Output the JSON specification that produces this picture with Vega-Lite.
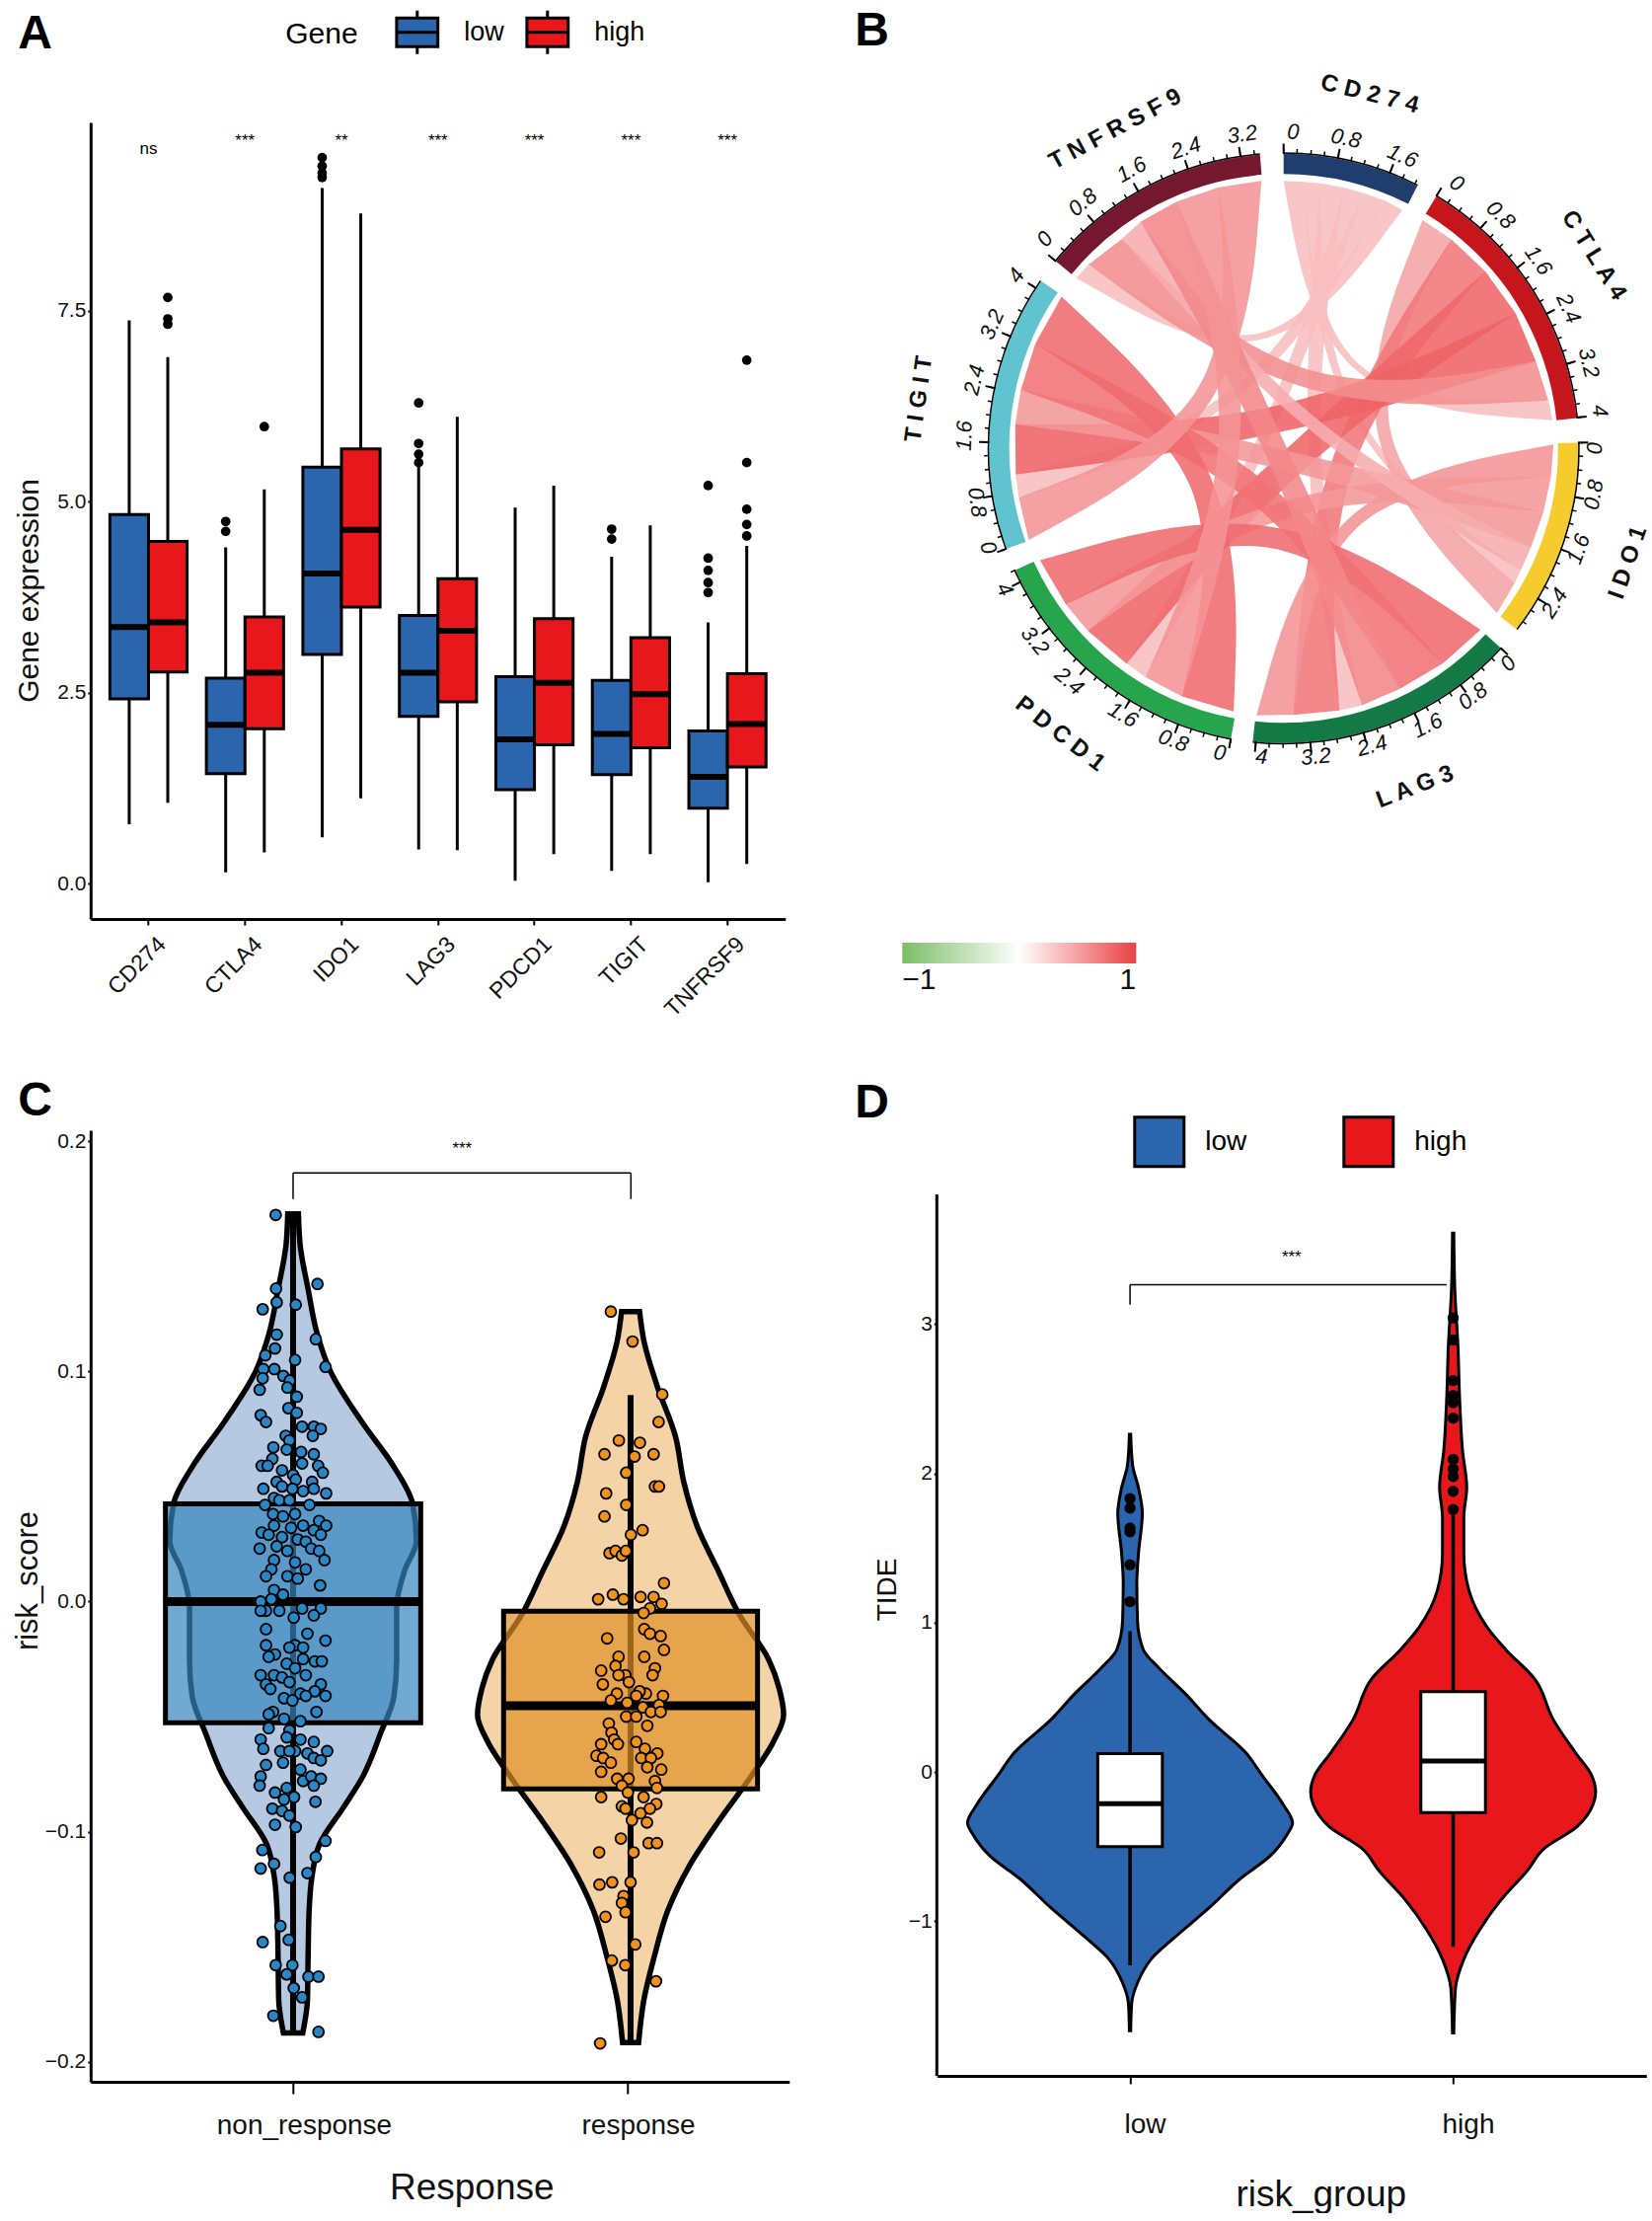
{
"$schema":"https://vega.github.io/schema/vega-lite/v6.json",
"padding":{"left":12.8,"top":7,"right":0,"bottom":0},
"background":"white",
"bounds":"flush",
"columns":2,
"spacing":{"row":214,"column":149.5},
"config":{"view":{"stroke":null},"font":"Liberation Sans","axis":{"grid":false,"domainColor":"black","domainWidth":3,"tickColor":"black","tickWidth":2,"tickSize":4,"labelColor":"#111","labelFontSize":21,"titleColor":"#111","titleFontWeight":"normal","labelFont":"Liberation Sans","titleFont":"Liberation Sans"},"legend":{"labelFont":"Liberation Sans","titleFont":"Liberation Sans"}},
"datasets":{
"boxes":[
{"gene":"CD274","group":"low","lo":0.78,"q1":2.42,"med":3.36,"q3":4.83,"hi":7.37},
{"gene":"CD274","group":"high","lo":1.06,"q1":2.77,"med":3.42,"q3":4.48,"hi":6.89},
{"gene":"CTLA4","group":"low","lo":0.15,"q1":1.44,"med":2.08,"q3":2.69,"hi":4.4},
{"gene":"CTLA4","group":"high","lo":0.41,"q1":2.03,"med":2.76,"q3":3.49,"hi":5.16},
{"gene":"IDO1","group":"low","lo":0.61,"q1":3.0,"med":4.06,"q3":5.45,"hi":9.1},
{"gene":"IDO1","group":"high","lo":1.12,"q1":3.62,"med":4.63,"q3":5.69,"hi":8.77},
{"gene":"LAG3","group":"low","lo":0.45,"q1":2.19,"med":2.76,"q3":3.51,"hi":5.51},
{"gene":"LAG3","group":"high","lo":0.44,"q1":2.38,"med":3.31,"q3":3.99,"hi":6.11},
{"gene":"PDCD1","group":"low","lo":0.04,"q1":1.23,"med":1.89,"q3":2.71,"hi":4.92},
{"gene":"PDCD1","group":"high","lo":0.39,"q1":1.82,"med":2.63,"q3":3.47,"hi":5.21},
{"gene":"TIGIT","group":"low","lo":0.17,"q1":1.43,"med":1.96,"q3":2.66,"hi":4.28},
{"gene":"TIGIT","group":"high","lo":0.39,"q1":1.78,"med":2.48,"q3":3.22,"hi":4.69},
{"gene":"TNFRSF9","group":"low","lo":0.02,"q1":0.99,"med":1.4,"q3":2.0,"hi":3.42},
{"gene":"TNFRSF9","group":"high","lo":0.26,"q1":1.53,"med":2.09,"q3":2.75,"hi":4.42}],
"outliers":[
{"gene":"CD274","group":"high","y":7.67},{"gene":"CD274","group":"high","y":7.39},{"gene":"CD274","group":"high","y":7.32},
{"gene":"CTLA4","group":"low","y":4.74},{"gene":"CTLA4","group":"low","y":4.61},{"gene":"CTLA4","group":"high","y":5.98},
{"gene":"IDO1","group":"low","y":9.5},{"gene":"IDO1","group":"low","y":9.39},{"gene":"IDO1","group":"low","y":9.3},{"gene":"IDO1","group":"low","y":9.24},
{"gene":"LAG3","group":"low","y":6.29},{"gene":"LAG3","group":"low","y":5.76},{"gene":"LAG3","group":"low","y":5.62},{"gene":"LAG3","group":"low","y":5.51},
{"gene":"TIGIT","group":"low","y":4.64},{"gene":"TIGIT","group":"low","y":4.51},
{"gene":"TNFRSF9","group":"low","y":5.21},{"gene":"TNFRSF9","group":"low","y":4.26},{"gene":"TNFRSF9","group":"low","y":4.1},{"gene":"TNFRSF9","group":"low","y":3.94},{"gene":"TNFRSF9","group":"low","y":3.81},
{"gene":"TNFRSF9","group":"high","y":6.85},{"gene":"TNFRSF9","group":"high","y":5.51},{"gene":"TNFRSF9","group":"high","y":4.9},{"gene":"TNFRSF9","group":"high","y":4.7},{"gene":"TNFRSF9","group":"high","y":4.55}],
"sig":[{"gene":"CD274","y":9.61,"label":"ns"},{"gene":"CTLA4","y":9.71,"label":"***"},{"gene":"IDO1","y":9.71,"label":"**"},{"gene":"LAG3","y":9.71,"label":"***"},{"gene":"PDCD1","y":9.71,"label":"***"},{"gene":"TIGIT","y":9.71,"label":"***"},{"gene":"TNFRSF9","y":9.71,"label":"***"}],
"rings":[{"gene":"CD274","t":0,"t2":27},{"gene":"CTLA4","t":31.2,"t2":84.1},{"gene":"IDO1","t":88.9,"t2":127.8},{"gene":"LAG3","t":132.6,"t2":186},{"gene":"PDCD1","t":190.3,"t2":245.6},{"gene":"TIGIT","t":250.1,"t2":304.6},{"gene":"TNFRSF9","t":309.4,"t2":355.4}],
"minor":[{"t":0},{"t":2.6},{"t":5.3},{"t":7.9},{"t":10.6},{"t":13.2},{"t":15.8},{"t":18.5},{"t":21.1},{"t":23.8},{"t":26.4},
{"t":31.2},{"t":33.8},{"t":36.5},{"t":39.1},{"t":41.8},{"t":44.4},{"t":47},{"t":49.7},{"t":52.3},{"t":55},{"t":57.6},{"t":60.2},{"t":62.9},{"t":65.5},{"t":68.2},{"t":70.8},{"t":73.4},{"t":76.1},{"t":78.7},{"t":81.4},{"t":84},
{"t":88.9},{"t":91.5},{"t":94.2},{"t":96.8},{"t":99.5},{"t":102.1},{"t":104.7},{"t":107.4},{"t":110},{"t":112.7},{"t":115.3},{"t":117.9},{"t":120.6},{"t":123.2},{"t":125.9},
{"t":132.6},{"t":135.2},{"t":137.9},{"t":140.5},{"t":143.2},{"t":145.8},{"t":148.4},{"t":151.1},{"t":153.7},{"t":156.4},{"t":159},{"t":161.6},{"t":164.3},{"t":166.9},{"t":169.6},{"t":172.2},{"t":174.8},{"t":177.5},{"t":180.1},{"t":182.8},{"t":185.4},
{"t":190.3},{"t":192.9},{"t":195.6},{"t":198.2},{"t":200.9},{"t":203.5},{"t":206.1},{"t":208.8},{"t":211.4},{"t":214.1},{"t":216.7},{"t":219.3},{"t":222},{"t":224.6},{"t":227.3},{"t":229.9},{"t":232.5},{"t":235.2},{"t":237.8},{"t":240.5},{"t":243.1},{"t":245.6},
{"t":250.1},{"t":252.7},{"t":255.4},{"t":258},{"t":260.7},{"t":263.3},{"t":265.9},{"t":268.6},{"t":271.2},{"t":273.9},{"t":276.5},{"t":279.1},{"t":281.8},{"t":284.4},{"t":287.1},{"t":289.7},{"t":292.3},{"t":295},{"t":297.6},{"t":300.3},{"t":302.9},
{"t":309.4},{"t":312},{"t":314.7},{"t":317.3},{"t":320},{"t":322.6},{"t":325.2},{"t":327.9},{"t":330.5},{"t":333.2},{"t":335.8},{"t":338.4},{"t":341.1},{"t":343.7},{"t":346.4},{"t":349},{"t":351.6},{"t":354.3}],
"major":[{"t":0},{"t":10.6},{"t":21.1},{"t":31.2},{"t":41.8},{"t":52.3},{"t":62.9},{"t":73.4},{"t":84},{"t":88.9},{"t":99.5},{"t":110},{"t":120.6},{"t":132.6},{"t":143.2},{"t":153.7},{"t":164.3},{"t":174.8},{"t":185.4},{"t":190.3},{"t":200.9},{"t":211.4},{"t":222},{"t":232.5},{"t":243.1},{"t":250.1},{"t":260.7},{"t":271.2},{"t":281.8},{"t":292.3},{"t":302.9},{"t":309.4},{"t":320},{"t":330.5},{"t":341.1},{"t":351.6}],
"ticklabels":[
{"x":843,"y":180,"label":"0","rot":2},{"x":948,"y":193,"label":"0.8","rot":12},{"x":1060,"y":228,"label":"1.6","rot":23},
{"x":1168,"y":282,"label":"0","rot":33},{"x":1255,"y":345,"label":"0.8","rot":44},{"x":1330,"y":435,"label":"1.6","rot":55},{"x":1390,"y":530,"label":"2.4","rot":66},{"x":1430,"y":638,"label":"3.2","rot":76},{"x":1452,"y":733,"label":"4","rot":84},
{"x":1442,"y":808,"label":"0","rot":-89},{"x":1440,"y":900,"label":"0.8","rot":-80},{"x":1410,"y":1008,"label":"1.6","rot":-70},{"x":1362,"y":1115,"label":"2.4","rot":-58},
{"x":1270,"y":1235,"label":"0","rot":-47},{"x":1200,"y":1300,"label":"0.8","rot":-37},{"x":1110,"y":1358,"label":"1.6","rot":-26},{"x":1000,"y":1398,"label":"2.4","rot":-15},{"x":888,"y":1420,"label":"3.2","rot":-5},{"x":780,"y":1420,"label":"4","rot":4},
{"x":697,"y":1412,"label":"0","rot":10},{"x":605,"y":1388,"label":"0.8","rot":20},{"x":505,"y":1337,"label":"1.6","rot":30},{"x":398,"y":1270,"label":"2.4","rot":40},{"x":330,"y":1190,"label":"3.2","rot":51},{"x":270,"y":1088,"label":"4","rot":62},
{"x":237,"y":1005,"label":"0","rot":71},{"x":215,"y":915,"label":"0.8","rot":82},{"x":190,"y":783,"label":"1.6","rot":-88},{"x":210,"y":672,"label":"2.4","rot":-77},{"x":245,"y":562,"label":"3.2","rot":-66},{"x":293,"y":465,"label":"4","rot":-55},
{"x":350,"y":393,"label":"0","rot":-50},{"x":425,"y":320,"label":"0.8","rot":-40},{"x":522,"y":255,"label":"1.6","rot":-29},{"x":630,"y":212,"label":"2.4","rot":-18},{"x":742,"y":185,"label":"3.2","rot":-8}],
"genelabels":[{"x":995,"y":105,"label":"C D 2 7 4","rot":14},{"x":1440,"y":425,"label":"C T L A 4","rot":58},{"x":1508,"y":1035,"label":"I D O 1","rot":-71},{"x":1085,"y":1480,"label":"L A G 3","rot":-21},{"x":380,"y":1375,"label":"P D C D 1","rot":38},{"x":100,"y":710,"label":"T I G I T","rot":-82},{"x":490,"y":175,"label":"T N F R S F 9","rot":-28}],
"ribbons":[
{"k":1,"x":824,"y":277,"v":0.3},{"k":1,"x":824,"y":277,"v":0.3},{"k":1,"x":824,"y":277,"v":0.3},{"k":1,"x":863,"y":279,"v":0.3},{"k":1,"x":863,"y":279,"v":0.3},{"k":1,"x":863,"y":279,"v":0.3},{"k":1,"x":909,"y":715,"v":0.3},{"k":1,"x":1350,"y":713,"v":0.3},{"k":1,"x":1350,"y":713,"v":0.3},{"k":1,"x":1350,"y":713,"v":0.3},{"k":1,"x":1358,"y":752,"v":0.3},{"k":1,"x":1358,"y":752,"v":0.3},{"k":1,"x":1358,"y":752,"v":0.3},{"k":1,"x":904,"y":720,"v":0.3},
{"k":2,"x":863,"y":279,"v":0.3},{"k":2,"x":863,"y":279,"v":0.3},{"k":2,"x":863,"y":279,"v":0.3},{"k":2,"x":897,"y":282,"v":0.3},{"k":2,"x":897,"y":282,"v":0.3},{"k":2,"x":897,"y":282,"v":0.3},{"k":2,"x":906,"y":766,"v":0.3},{"k":2,"x":1295,"y":1050,"v":0.3},{"k":2,"x":1295,"y":1050,"v":0.3},{"k":2,"x":1295,"y":1050,"v":0.3},{"k":2,"x":1283,"y":1075,"v":0.3},{"k":2,"x":1283,"y":1075,"v":0.3},{"k":2,"x":1283,"y":1075,"v":0.3},{"k":2,"x":899,"y":769,"v":0.3},
{"k":3,"x":897,"y":282,"v":0.3},{"k":3,"x":897,"y":282,"v":0.3},{"k":3,"x":897,"y":282,"v":0.3},{"k":3,"x":945,"y":291,"v":0.3},{"k":3,"x":945,"y":291,"v":0.3},{"k":3,"x":945,"y":291,"v":0.3},{"k":3,"x":866,"y":807,"v":0.3},{"k":3,"x":980,"y":1318,"v":0.3},{"k":3,"x":980,"y":1318,"v":0.3},{"k":3,"x":980,"y":1318,"v":0.3},{"k":3,"x":935,"y":1328,"v":0.3},{"k":3,"x":935,"y":1328,"v":0.3},{"k":3,"x":935,"y":1328,"v":0.3},{"k":3,"x":852,"y":808,"v":0.3},
{"k":4,"x":945,"y":291,"v":0.3},{"k":4,"x":945,"y":291,"v":0.3},{"k":4,"x":945,"y":291,"v":0.3},{"k":4,"x":985,"y":302,"v":0.3},{"k":4,"x":985,"y":302,"v":0.3},{"k":4,"x":985,"y":302,"v":0.3},{"k":4,"x":807,"y":801,"v":0.3},{"k":4,"x":550,"y":1262,"v":0.3},{"k":4,"x":550,"y":1262,"v":0.3},{"k":4,"x":550,"y":1262,"v":0.3},{"k":4,"x":512,"y":1235,"v":0.3},{"k":4,"x":512,"y":1235,"v":0.3},{"k":4,"x":512,"y":1235,"v":0.3},{"k":4,"x":796,"y":795,"v":0.3},
{"k":5,"x":985,"y":302,"v":0.3},{"k":5,"x":985,"y":302,"v":0.3},{"k":5,"x":985,"y":302,"v":0.3},{"k":5,"x":1025,"y":316,"v":0.3},{"k":5,"x":1025,"y":316,"v":0.3},{"k":5,"x":1025,"y":316,"v":0.3},{"k":5,"x":775,"y":749,"v":0.3},{"k":5,"x":298,"y":905,"v":0.3},{"k":5,"x":298,"y":905,"v":0.3},{"k":5,"x":298,"y":905,"v":0.3},{"k":5,"x":292,"y":860,"v":0.3},{"k":5,"x":292,"y":860,"v":0.3},{"k":5,"x":292,"y":860,"v":0.3},{"k":5,"x":769,"y":740,"v":0.3},
{"k":6,"x":1025,"y":316,"v":0.3},{"k":6,"x":1025,"y":316,"v":0.3},{"k":6,"x":1025,"y":316,"v":0.3},{"k":6,"x":1060,"y":335,"v":0.3},{"k":6,"x":1060,"y":335,"v":0.3},{"k":6,"x":1060,"y":335,"v":0.3},{"k":6,"x":798,"y":687,"v":0.3},{"k":6,"x":412,"y":470,"v":0.3},{"k":6,"x":412,"y":470,"v":0.3},{"k":6,"x":412,"y":470,"v":0.3},{"k":6,"x":437,"y":443,"v":0.3},{"k":6,"x":437,"y":443,"v":0.3},{"k":6,"x":437,"y":443,"v":0.3},{"k":6,"x":796,"y":680,"v":0.3},
{"k":7,"x":1100,"y":355,"v":0.42},{"k":7,"x":1100,"y":355,"v":0.42},{"k":7,"x":1100,"y":355,"v":0.42},{"k":7,"x":1157,"y":393,"v":0.42},{"k":7,"x":1157,"y":393,"v":0.42},{"k":7,"x":1157,"y":393,"v":0.42},{"k":7,"x":943,"y":786,"v":0.42},{"k":7,"x":1283,"y":1075,"v":0.42},{"k":7,"x":1283,"y":1075,"v":0.42},{"k":7,"x":1283,"y":1075,"v":0.42},{"k":7,"x":1248,"y":1135,"v":0.42},{"k":7,"x":1248,"y":1135,"v":0.42},{"k":7,"x":1248,"y":1135,"v":0.42},{"k":7,"x":929,"y":790,"v":0.42},
{"k":8,"x":1157,"y":393,"v":0.62},{"k":8,"x":1157,"y":393,"v":0.62},{"k":8,"x":1157,"y":393,"v":0.62},{"k":8,"x":1225,"y":457,"v":0.62},{"k":8,"x":1225,"y":457,"v":0.62},{"k":8,"x":1225,"y":457,"v":0.62},{"k":8,"x":901,"y":834,"v":0.62},{"k":8,"x":935,"y":1328,"v":0.62},{"k":8,"x":935,"y":1328,"v":0.62},{"k":8,"x":935,"y":1328,"v":0.62},{"k":8,"x":843,"y":1337,"v":0.62},{"k":8,"x":843,"y":1337,"v":0.62},{"k":8,"x":843,"y":1337,"v":0.62},{"k":8,"x":877,"y":826,"v":0.62},
{"k":9,"x":1225,"y":457,"v":0.7},{"k":9,"x":1225,"y":457,"v":0.7},{"k":9,"x":1225,"y":457,"v":0.7},{"k":9,"x":1285,"y":540,"v":0.7},{"k":9,"x":1285,"y":540,"v":0.7},{"k":9,"x":1285,"y":540,"v":0.7},{"k":9,"x":847,"y":832,"v":0.7},{"k":9,"x":512,"y":1235,"v":0.7},{"k":9,"x":512,"y":1235,"v":0.7},{"k":9,"x":512,"y":1235,"v":0.7},{"k":9,"x":435,"y":1170,"v":0.7},{"k":9,"x":435,"y":1170,"v":0.7},{"k":9,"x":435,"y":1170,"v":0.7},{"k":9,"x":826,"y":810,"v":0.7},
{"k":10,"x":1285,"y":540,"v":0.72},{"k":10,"x":1285,"y":540,"v":0.72},{"k":10,"x":1285,"y":540,"v":0.72},{"k":10,"x":1325,"y":635,"v":0.72},{"k":10,"x":1325,"y":635,"v":0.72},{"k":10,"x":1325,"y":635,"v":0.72},{"k":10,"x":820,"y":790,"v":0.72},{"k":10,"x":292,"y":860,"v":0.72},{"k":10,"x":292,"y":860,"v":0.72},{"k":10,"x":292,"y":860,"v":0.72},{"k":10,"x":291,"y":760,"v":0.72},{"k":10,"x":291,"y":760,"v":0.72},{"k":10,"x":291,"y":760,"v":0.72},{"k":10,"x":813,"y":761,"v":0.72},
{"k":11,"x":1325,"y":635,"v":0.52},{"k":11,"x":1325,"y":635,"v":0.52},{"k":11,"x":1325,"y":635,"v":0.52},{"k":11,"x":1350,"y":713,"v":0.52},{"k":11,"x":1350,"y":713,"v":0.52},{"k":11,"x":1350,"y":713,"v":0.52},{"k":11,"x":845,"y":739,"v":0.52},{"k":11,"x":437,"y":443,"v":0.52},{"k":11,"x":437,"y":443,"v":0.52},{"k":11,"x":437,"y":443,"v":0.52},{"k":11,"x":503,"y":392,"v":0.52},{"k":11,"x":503,"y":392,"v":0.52},{"k":11,"x":503,"y":392,"v":0.52},{"k":11,"x":851,"y":720,"v":0.52},
{"k":12,"x":1360,"y":800,"v":0.5},{"k":12,"x":1360,"y":800,"v":0.5},{"k":12,"x":1360,"y":800,"v":0.5},{"k":12,"x":1355,"y":865,"v":0.5},{"k":12,"x":1355,"y":865,"v":0.5},{"k":12,"x":1355,"y":865,"v":0.5},{"k":12,"x":907,"y":896,"v":0.5},{"k":12,"x":843,"y":1337,"v":0.5},{"k":12,"x":843,"y":1337,"v":0.5},{"k":12,"x":843,"y":1337,"v":0.5},{"k":12,"x":770,"y":1338,"v":0.5},{"k":12,"x":770,"y":1338,"v":0.5},{"k":12,"x":770,"y":1338,"v":0.5},{"k":12,"x":897,"y":887,"v":0.5},
{"k":13,"x":1355,"y":865,"v":0.48},{"k":13,"x":1355,"y":865,"v":0.48},{"k":13,"x":1355,"y":865,"v":0.48},{"k":13,"x":1340,"y":935,"v":0.48},{"k":13,"x":1340,"y":935,"v":0.48},{"k":13,"x":1340,"y":935,"v":0.48},{"k":13,"x":843,"y":882,"v":0.48},{"k":13,"x":435,"y":1170,"v":0.48},{"k":13,"x":435,"y":1170,"v":0.48},{"k":13,"x":435,"y":1170,"v":0.48},{"k":13,"x":392,"y":1118,"v":0.48},{"k":13,"x":392,"y":1118,"v":0.48},{"k":13,"x":392,"y":1118,"v":0.48},{"k":13,"x":839,"y":863,"v":0.48},
{"k":14,"x":1340,"y":935,"v":0.48},{"k":14,"x":1340,"y":935,"v":0.48},{"k":14,"x":1340,"y":935,"v":0.48},{"k":14,"x":1315,"y":1005,"v":0.48},{"k":14,"x":1315,"y":1005,"v":0.48},{"k":14,"x":1315,"y":1005,"v":0.48},{"k":14,"x":818,"y":831,"v":0.48},{"k":14,"x":291,"y":760,"v":0.48},{"k":14,"x":291,"y":760,"v":0.48},{"k":14,"x":291,"y":760,"v":0.48},{"k":14,"x":302,"y":692,"v":0.48},{"k":14,"x":302,"y":692,"v":0.48},{"k":14,"x":302,"y":692,"v":0.48},{"k":14,"x":823,"y":810,"v":0.48},
{"k":15,"x":1315,"y":1005,"v":0.38},{"k":15,"x":1315,"y":1005,"v":0.38},{"k":15,"x":1315,"y":1005,"v":0.38},{"k":15,"x":1295,"y":1050,"v":0.38},{"k":15,"x":1295,"y":1050,"v":0.38},{"k":15,"x":1295,"y":1050,"v":0.38},{"k":15,"x":847,"y":782,"v":0.38},{"k":15,"x":503,"y":392,"v":0.38},{"k":15,"x":503,"y":392,"v":0.38},{"k":15,"x":503,"y":392,"v":0.38},{"k":15,"x":540,"y":358,"v":0.38},{"k":15,"x":540,"y":358,"v":0.38},{"k":15,"x":540,"y":358,"v":0.38},{"k":15,"x":855,"y":770,"v":0.38},
{"k":16,"x":1215,"y":1168,"v":0.68},{"k":16,"x":1215,"y":1168,"v":0.68},{"k":16,"x":1215,"y":1168,"v":0.68},{"k":16,"x":1140,"y":1235,"v":0.68},{"k":16,"x":1140,"y":1235,"v":0.68},{"k":16,"x":1140,"y":1235,"v":0.68},{"k":16,"x":807,"y":919,"v":0.68},{"k":16,"x":392,"y":1118,"v":0.68},{"k":16,"x":392,"y":1118,"v":0.68},{"k":16,"x":392,"y":1118,"v":0.68},{"k":16,"x":340,"y":1030,"v":0.68},{"k":16,"x":340,"y":1030,"v":0.68},{"k":16,"x":340,"y":1030,"v":0.68},{"k":16,"x":810,"y":896,"v":0.68},
{"k":17,"x":1140,"y":1235,"v":0.65},{"k":17,"x":1140,"y":1235,"v":0.65},{"k":17,"x":1140,"y":1235,"v":0.65},{"k":17,"x":1055,"y":1285,"v":0.65},{"k":17,"x":1055,"y":1285,"v":0.65},{"k":17,"x":1055,"y":1285,"v":0.65},{"k":17,"x":781,"y":863,"v":0.65},{"k":17,"x":302,"y":692,"v":0.65},{"k":17,"x":302,"y":692,"v":0.65},{"k":17,"x":302,"y":692,"v":0.65},{"k":17,"x":331,"y":600,"v":0.65},{"k":17,"x":331,"y":600,"v":0.65},{"k":17,"x":331,"y":600,"v":0.65},{"k":17,"x":798,"y":841,"v":0.65},
{"k":18,"x":1055,"y":1285,"v":0.55},{"k":18,"x":1055,"y":1285,"v":0.55},{"k":18,"x":1055,"y":1285,"v":0.55},{"k":18,"x":980,"y":1318,"v":0.55},{"k":18,"x":980,"y":1318,"v":0.55},{"k":18,"x":980,"y":1318,"v":0.55},{"k":18,"x":805,"y":817,"v":0.55},{"k":18,"x":540,"y":358,"v":0.55},{"k":18,"x":540,"y":358,"v":0.55},{"k":18,"x":540,"y":358,"v":0.55},{"k":18,"x":612,"y":318,"v":0.55},{"k":18,"x":612,"y":318,"v":0.55},{"k":18,"x":612,"y":318,"v":0.55},{"k":18,"x":827,"y":806,"v":0.55},
{"k":19,"x":725,"y":1330,"v":0.68},{"k":19,"x":725,"y":1330,"v":0.68},{"k":19,"x":725,"y":1330,"v":0.68},{"k":19,"x":622,"y":1300,"v":0.68},{"k":19,"x":622,"y":1300,"v":0.68},{"k":19,"x":622,"y":1300,"v":0.68},{"k":19,"x":720,"y":851,"v":0.68},{"k":19,"x":331,"y":600,"v":0.68},{"k":19,"x":331,"y":600,"v":0.68},{"k":19,"x":331,"y":600,"v":0.68},{"k":19,"x":383,"y":507,"v":0.68},{"k":19,"x":383,"y":507,"v":0.68},{"k":19,"x":383,"y":507,"v":0.68},{"k":19,"x":743,"y":842,"v":0.68},
{"k":20,"x":622,"y":1300,"v":0.5},{"k":20,"x":622,"y":1300,"v":0.5},{"k":20,"x":622,"y":1300,"v":0.5},{"k":20,"x":550,"y":1262,"v":0.5},{"k":20,"x":550,"y":1262,"v":0.5},{"k":20,"x":550,"y":1262,"v":0.5},{"k":20,"x":751,"y":803,"v":0.5},{"k":20,"x":612,"y":318,"v":0.5},{"k":20,"x":612,"y":318,"v":0.5},{"k":20,"x":612,"y":318,"v":0.5},{"k":20,"x":695,"y":290,"v":0.5},{"k":20,"x":695,"y":290,"v":0.5},{"k":20,"x":695,"y":290,"v":0.5},{"k":20,"x":775,"y":805,"v":0.5},
{"k":21,"x":318,"y":990,"v":0.5},{"k":21,"x":318,"y":990,"v":0.5},{"k":21,"x":318,"y":990,"v":0.5},{"k":21,"x":298,"y":905,"v":0.5},{"k":21,"x":298,"y":905,"v":0.5},{"k":21,"x":298,"y":905,"v":0.5},{"k":21,"x":726,"y":745,"v":0.5},{"k":21,"x":695,"y":290,"v":0.5},{"k":21,"x":695,"y":290,"v":0.5},{"k":21,"x":695,"y":290,"v":0.5},{"k":21,"x":780,"y":277,"v":0.5},{"k":21,"x":780,"y":277,"v":0.5},{"k":21,"x":780,"y":277,"v":0.5},{"k":21,"x":742,"y":756,"v":0.5}],
"violinC":[
{"g":"non_response","y":0.1685,"x":0.984,"x2":1.016},{"g":"non_response","y":0.155,"x":0.979,"x2":1.021},{"g":"non_response","y":0.1357,"x":0.955,"x2":1.045},{"g":"non_response","y":0.1164,"x":0.928,"x2":1.072},{"g":"non_response","y":0.1003,"x":0.889,"x2":1.111},{"g":"non_response","y":0.0778,"x":0.793,"x2":1.207},{"g":"non_response","y":0.0585,"x":0.698,"x2":1.302},{"g":"non_response","y":0.0424,"x":0.642,"x2":1.358},{"g":"non_response","y":0.0264,"x":0.631,"x2":1.369},{"g":"non_response","y":0.0135,"x":0.666,"x2":1.334},{"g":"non_response","y":-0.0026,"x":0.69,"x2":1.31},{"g":"non_response","y":-0.0251,"x":0.69,"x2":1.31},{"g":"non_response","y":-0.0412,"x":0.698,"x2":1.302},{"g":"non_response","y":-0.0572,"x":0.738,"x2":1.262},{"g":"non_response","y":-0.0765,"x":0.793,"x2":1.207},{"g":"non_response","y":-0.0894,"x":0.849,"x2":1.151},{"g":"non_response","y":-0.1055,"x":0.921,"x2":1.079},{"g":"non_response","y":-0.12,"x":0.944,"x2":1.056},{"g":"non_response","y":-0.1344,"x":0.952,"x2":1.048},{"g":"non_response","y":-0.1537,"x":0.955,"x2":1.045},{"g":"non_response","y":-0.173,"x":0.957,"x2":1.043},{"g":"non_response","y":-0.1875,"x":0.971,"x2":1.029},
{"g":"response","y":0.126,"x":1.983,"x2":2.037},{"g":"response","y":0.1132,"x":1.97,"x2":2.05},{"g":"response","y":0.0939,"x":1.931,"x2":2.089},{"g":"response","y":0.0714,"x":1.875,"x2":2.145},{"g":"response","y":0.0521,"x":1.851,"x2":2.169},{"g":"response","y":0.0328,"x":1.811,"x2":2.209},{"g":"response","y":0.0135,"x":1.748,"x2":2.272},{"g":"response","y":-0.0058,"x":1.684,"x2":2.336},{"g":"response","y":-0.0251,"x":1.597,"x2":2.423},{"g":"response","y":-0.0379,"x":1.565,"x2":2.455},{"g":"response","y":-0.0492,"x":1.552,"x2":2.468},{"g":"response","y":-0.0605,"x":1.581,"x2":2.439},{"g":"response","y":-0.0765,"x":1.652,"x2":2.368},{"g":"response","y":-0.0958,"x":1.748,"x2":2.272},{"g":"response","y":-0.1151,"x":1.835,"x2":2.185},{"g":"response","y":-0.1344,"x":1.899,"x2":2.121},{"g":"response","y":-0.1537,"x":1.938,"x2":2.082},{"g":"response","y":-0.173,"x":1.97,"x2":2.05},{"g":"response","y":-0.1916,"x":1.986,"x2":2.034}],
"boxC":[{"g":"non_response","c":1,"x":0.618,"x2":1.382,"lo":-0.1875,"q1":-0.0527,"med":0,"q3":0.0424,"hi":0.1685},{"g":"response","c":2.01,"x":1.63,"x2":2.39,"lo":-0.1916,"q1":-0.0814,"med":-0.0453,"q3":-0.0042,"hi":0.0897}],
"pointsC":[
{"g":"non_response","x":0.948,"y":0.168},{"g":"non_response","x":0.949,"y":0.136},{"g":"non_response","x":1.073,"y":0.138},{"g":"non_response","x":0.909,"y":0.127},{"g":"non_response","x":0.951,"y":0.13},{"g":"non_response","x":1.008,"y":0.129},{"g":"non_response","x":0.951,"y":0.116},{"g":"non_response","x":0.946,"y":0.11},{"g":"non_response","x":1.068,"y":0.114},{"g":"non_response","x":0.917,"y":0.107},{"g":"non_response","x":1.006,"y":0.105},{"g":"non_response","x":1.097,"y":0.102},{"g":"non_response","x":0.911,"y":0.101},{"g":"non_response","x":0.944,"y":0.101},{"g":"non_response","x":0.909,"y":0.097},{"g":"non_response","x":0.971,"y":0.098},{"g":"non_response","x":0.99,"y":0.096},{"g":"non_response","x":0.9,"y":0.092},{"g":"non_response","x":0.983,"y":0.093},{"g":"non_response","x":1.011,"y":0.089},{"g":"non_response","x":0.986,"y":0.084},{"g":"non_response","x":1.011,"y":0.082},{"g":"non_response","x":0.903,"y":0.081},{"g":"non_response","x":0.919,"y":0.078},{"g":"non_response","x":1.027,"y":0.076},{"g":"non_response","x":1.062,"y":0.076},{"g":"non_response","x":1.083,"y":0.075},{"g":"non_response","x":0.978,"y":0.072},{"g":"non_response","x":1.059,"y":0.072},{"g":"non_response","x":0.989,"y":0.07},{"g":"non_response","x":0.941,"y":0.067},{"g":"non_response","x":0.981,"y":0.066},{"g":"non_response","x":1.024,"y":0.065},{"g":"non_response","x":1.062,"y":0.064},{"g":"non_response","x":0.938,"y":0.062},{"g":"non_response","x":1.027,"y":0.06},{"g":"non_response","x":0.906,"y":0.059},{"g":"non_response","x":0.924,"y":0.059},{"g":"non_response","x":0.967,"y":0.057},{"g":"non_response","x":1.075,"y":0.059},{"g":"non_response","x":1.089,"y":0.056},{"g":"non_response","x":1.0,"y":0.055},{"g":"non_response","x":0.951,"y":0.052},{"g":"non_response","x":1.008,"y":0.053},{"g":"non_response","x":1.057,"y":0.052},{"g":"non_response","x":0.911,"y":0.049},{"g":"non_response","x":0.967,"y":0.05},{"g":"non_response","x":0.998,"y":0.049},{"g":"non_response","x":1.03,"y":0.048},{"g":"non_response","x":1.062,"y":0.049},{"g":"non_response","x":1.099,"y":0.047},{"g":"non_response","x":0.943,"y":0.045},{"g":"non_response","x":0.959,"y":0.044},{"g":"non_response","x":0.916,"y":0.042},{"g":"non_response","x":0.989,"y":0.044},{"g":"non_response","x":1.049,"y":0.042},{"g":"non_response","x":0.94,"y":0.038},{"g":"non_response","x":0.97,"y":0.037},{"g":"non_response","x":1.006,"y":0.038},{"g":"non_response","x":1.078,"y":0.035},{"g":"non_response","x":1.099,"y":0.033},{"g":"non_response","x":0.943,"y":0.033},{"g":"non_response","x":0.994,"y":0.032},{"g":"non_response","x":1.03,"y":0.033},{"g":"non_response","x":1.062,"y":0.031},{"g":"non_response","x":0.906,"y":0.03},{"g":"non_response","x":0.927,"y":0.029},{"g":"non_response","x":0.967,"y":0.028},{"g":"non_response","x":1.014,"y":0.027},{"g":"non_response","x":1.038,"y":0.026},{"g":"non_response","x":1.083,"y":0.029},{"g":"non_response","x":0.9,"y":0.023},{"g":"non_response","x":0.951,"y":0.024},{"g":"non_response","x":0.983,"y":0.022},{"g":"non_response","x":1.054,"y":0.023},{"g":"non_response","x":1.078,"y":0.022},{"g":"non_response","x":0.943,"y":0.018},{"g":"non_response","x":1.006,"y":0.017},{"g":"non_response","x":1.094,"y":0.018},{"g":"non_response","x":1.038,"y":0.014},{"g":"non_response","x":0.935,"y":0.014},{"g":"non_response","x":0.919,"y":0.011},{"g":"non_response","x":0.983,"y":0.011},{"g":"non_response","x":1.014,"y":0.01},{"g":"non_response","x":1.081,"y":0.007},{"g":"non_response","x":0.943,"y":0.005},{"g":"non_response","x":0.97,"y":0.003},{"g":"non_response","x":0.903,"y":0},{"g":"non_response","x":0.935,"y":0.001},{"g":"non_response","x":0.919,"y":-0.004},{"g":"non_response","x":0.903,"y":-0.004},{"g":"non_response","x":0.959,"y":-0.004},{"g":"non_response","x":1.027,"y":-0.003},{"g":"non_response","x":1.083,"y":-0.003},{"g":"non_response","x":1.002,"y":-0.007},{"g":"non_response","x":1.062,"y":-0.006},{"g":"non_response","x":0.919,"y":-0.012},{"g":"non_response","x":1.043,"y":-0.014},{"g":"non_response","x":1.097,"y":-0.017},{"g":"non_response","x":1.006,"y":-0.019},{"g":"non_response","x":0.919,"y":-0.019},{"g":"non_response","x":1.03,"y":-0.02},{"g":"non_response","x":0.989,"y":-0.02},{"g":"non_response","x":0.946,"y":-0.023},{"g":"non_response","x":0.927,"y":-0.024},{"g":"non_response","x":0.981,"y":-0.027},{"g":"non_response","x":1.065,"y":-0.026},{"g":"non_response","x":1.086,"y":-0.026},{"g":"non_response","x":1.03,"y":-0.025},{"g":"non_response","x":1.006,"y":-0.029},{"g":"non_response","x":0.903,"y":-0.032},{"g":"non_response","x":0.943,"y":-0.032},{"g":"non_response","x":0.967,"y":-0.033},{"g":"non_response","x":1.038,"y":-0.032},{"g":"non_response","x":0.919,"y":-0.036},{"g":"non_response","x":0.989,"y":-0.035},{"g":"non_response","x":1.083,"y":-0.036},{"g":"non_response","x":0.932,"y":-0.038},{"g":"non_response","x":1.022,"y":-0.04},{"g":"non_response","x":1.065,"y":-0.039},{"g":"non_response","x":1.097,"y":-0.041},{"g":"non_response","x":0.973,"y":-0.042},{"g":"non_response","x":0.998,"y":-0.043},{"g":"non_response","x":1.038,"y":-0.041},{"g":"non_response","x":1.07,"y":-0.048},{"g":"non_response","x":0.94,"y":-0.048},{"g":"non_response","x":0.927,"y":-0.049},{"g":"non_response","x":0.973,"y":-0.051},{"g":"non_response","x":1.022,"y":-0.052},{"g":"non_response","x":0.927,"y":-0.055},{"g":"non_response","x":0.989,"y":-0.056},{"g":"non_response","x":0.981,"y":-0.059},{"g":"non_response","x":0.903,"y":-0.06},{"g":"non_response","x":1.022,"y":-0.06},{"g":"non_response","x":1.062,"y":-0.061},{"g":"non_response","x":0.911,"y":-0.064},{"g":"non_response","x":1.006,"y":-0.065},{"g":"non_response","x":0.962,"y":-0.065},{"g":"non_response","x":0.989,"y":-0.065},{"g":"non_response","x":1.043,"y":-0.066},{"g":"non_response","x":1.102,"y":-0.065},{"g":"non_response","x":1.062,"y":-0.068},{"g":"non_response","x":1.083,"y":-0.069},{"g":"non_response","x":0.97,"y":-0.07},{"g":"non_response","x":0.919,"y":-0.071},{"g":"non_response","x":1.022,"y":-0.073},{"g":"non_response","x":0.903,"y":-0.076},{"g":"non_response","x":1.03,"y":-0.078},{"g":"non_response","x":1.054,"y":-0.076},{"g":"non_response","x":1.083,"y":-0.077},{"g":"non_response","x":0.9,"y":-0.08},{"g":"non_response","x":1.062,"y":-0.08},{"g":"non_response","x":0.946,"y":-0.083},{"g":"non_response","x":0.981,"y":-0.081},{"g":"non_response","x":1.003,"y":-0.085},{"g":"non_response","x":0.973,"y":-0.086},{"g":"non_response","x":1.067,"y":-0.087},{"g":"non_response","x":0.938,"y":-0.09},{"g":"non_response","x":0.967,"y":-0.091},{"g":"non_response","x":0.989,"y":-0.093},{"g":"non_response","x":0.946,"y":-0.097},{"g":"non_response","x":1.008,"y":-0.098},{"g":"non_response","x":1.097,"y":-0.104},{"g":"non_response","x":0.908,"y":-0.108},{"g":"non_response","x":1.068,"y":-0.111},{"g":"non_response","x":0.943,"y":-0.114},{"g":"non_response","x":0.903,"y":-0.116},{"g":"non_response","x":1.043,"y":-0.118},{"g":"non_response","x":0.99,"y":-0.12},{"g":"non_response","x":0.962,"y":-0.141},{"g":"non_response","x":0.909,"y":-0.148},{"g":"non_response","x":0.987,"y":-0.147},{"g":"non_response","x":0.948,"y":-0.158},{"g":"non_response","x":0.998,"y":-0.158},{"g":"non_response","x":0.981,"y":-0.162},{"g":"non_response","x":1.046,"y":-0.163},{"g":"non_response","x":1.076,"y":-0.163},{"g":"non_response","x":1.002,"y":-0.168},{"g":"non_response","x":1.027,"y":-0.172},{"g":"non_response","x":0.941,"y":-0.18},{"g":"non_response","x":1.076,"y":-0.187},
{"g":"response","x":1.951,"y":0.126},{"g":"response","x":2.016,"y":0.113},{"g":"response","x":2.105,"y":0.09},{"g":"response","x":2.094,"y":0.078},{"g":"response","x":1.975,"y":0.07},{"g":"response","x":2.038,"y":0.069},{"g":"response","x":1.932,"y":0.064},{"g":"response","x":2.079,"y":0.064},{"g":"response","x":2.022,"y":0.063},{"g":"response","x":1.997,"y":0.056},{"g":"response","x":2.083,"y":0.05},{"g":"response","x":2.095,"y":0.05},{"g":"response","x":1.937,"y":0.047},{"g":"response","x":1.997,"y":0.042},{"g":"response","x":1.932,"y":0.037},{"g":"response","x":2.046,"y":0.031},{"g":"response","x":2.011,"y":0.029},{"g":"response","x":1.947,"y":0.021},{"g":"response","x":1.965,"y":0.022},{"g":"response","x":1.984,"y":0.02},{"g":"response","x":1.996,"y":0.022},{"g":"response","x":2.11,"y":0.008},{"g":"response","x":1.957,"y":0.003},{"g":"response","x":1.913,"y":0.001},{"g":"response","x":1.989,"y":0.001},{"g":"response","x":2.04,"y":0.002},{"g":"response","x":2.079,"y":0.002},{"g":"response","x":2.103,"y":-0.001},{"g":"response","x":2.068,"y":-0.003},{"g":"response","x":2.049,"y":-0.005},{"g":"response","x":2.051,"y":-0.012},{"g":"response","x":1.94,"y":-0.016},{"g":"response","x":2.068,"y":-0.014},{"g":"response","x":2.1,"y":-0.015},{"g":"response","x":2.11,"y":-0.021},{"g":"response","x":1.974,"y":-0.024},{"g":"response","x":2.051,"y":-0.024},{"g":"response","x":1.965,"y":-0.028},{"g":"response","x":2.083,"y":-0.029},{"g":"response","x":1.922,"y":-0.03},{"g":"response","x":1.994,"y":-0.032},{"g":"response","x":1.974,"y":-0.032},{"g":"response","x":2.076,"y":-0.032},{"g":"response","x":2.005,"y":-0.035},{"g":"response","x":1.927,"y":-0.036},{"g":"response","x":2.056,"y":-0.04},{"g":"response","x":2.037,"y":-0.039},{"g":"response","x":1.969,"y":-0.04},{"g":"response","x":2.107,"y":-0.041},{"g":"response","x":2.027,"y":-0.041},{"g":"response","x":1.951,"y":-0.043},{"g":"response","x":2.0,"y":-0.044},{"g":"response","x":2.095,"y":-0.045},{"g":"response","x":2.047,"y":-0.046},{"g":"response","x":2.071,"y":-0.048},{"g":"response","x":2.1,"y":-0.048},{"g":"response","x":1.997,"y":-0.05},{"g":"response","x":2.027,"y":-0.05},{"g":"response","x":2.06,"y":-0.054},{"g":"response","x":1.945,"y":-0.053},{"g":"response","x":1.953,"y":-0.057},{"g":"response","x":2.027,"y":-0.061},{"g":"response","x":1.922,"y":-0.062},{"g":"response","x":1.961,"y":-0.06},{"g":"response","x":1.972,"y":-0.062},{"g":"response","x":2.053,"y":-0.064},{"g":"response","x":2.09,"y":-0.066},{"g":"response","x":1.908,"y":-0.067},{"g":"response","x":1.928,"y":-0.068},{"g":"response","x":1.951,"y":-0.07},{"g":"response","x":2.042,"y":-0.068},{"g":"response","x":2.071,"y":-0.068},{"g":"response","x":2.06,"y":-0.072},{"g":"response","x":2.102,"y":-0.073},{"g":"response","x":1.922,"y":-0.074},{"g":"response","x":1.97,"y":-0.077},{"g":"response","x":2.004,"y":-0.077},{"g":"response","x":2.083,"y":-0.078},{"g":"response","x":1.984,"y":-0.08},{"g":"response","x":2.089,"y":-0.081},{"g":"response","x":2.002,"y":-0.083},{"g":"response","x":1.922,"y":-0.085},{"g":"response","x":2.049,"y":-0.085},{"g":"response","x":2.087,"y":-0.088},{"g":"response","x":1.984,"y":-0.089},{"g":"response","x":1.995,"y":-0.09},{"g":"response","x":2.04,"y":-0.092},{"g":"response","x":2.068,"y":-0.09},{"g":"response","x":2.014,"y":-0.095},{"g":"response","x":2.059,"y":-0.096},{"g":"response","x":1.981,"y":-0.103},{"g":"response","x":2.064,"y":-0.105},{"g":"response","x":2.089,"y":-0.105},{"g":"response","x":1.916,"y":-0.109},{"g":"response","x":2.019,"y":-0.109},{"g":"response","x":1.917,"y":-0.123},{"g":"response","x":1.955,"y":-0.122},{"g":"response","x":2.01,"y":-0.122},{"g":"response","x":1.989,"y":-0.128},{"g":"response","x":1.984,"y":-0.131},{"g":"response","x":1.995,"y":-0.135},{"g":"response","x":1.935,"y":-0.137},{"g":"response","x":2.024,"y":-0.149},{"g":"response","x":1.954,"y":-0.156},{"g":"response","x":1.994,"y":-0.158},{"g":"response","x":2.086,"y":-0.165},{"g":"response","x":1.919,"y":-0.192}],
"violinD":[
{"g":"low","y":-1.733,"x":0.998,"x2":1.002},{"g":"low","y":-1.551,"x":0.995,"x2":1.005},{"g":"low","y":-1.402,"x":0.975,"x2":1.025},{"g":"low","y":-1.254,"x":0.935,"x2":1.065},{"g":"low","y":-1.106,"x":0.861,"x2":1.139},{"g":"low","y":-0.909,"x":0.755,"x2":1.245},{"g":"low","y":-0.711,"x":0.657,"x2":1.343},{"g":"low","y":-0.563,"x":0.567,"x2":1.433},{"g":"low","y":-0.415,"x":0.513,"x2":1.487},{"g":"low","y":-0.341,"x":0.497,"x2":1.503},{"g":"low","y":-0.217,"x":0.526,"x2":1.474},{"g":"low","y":-0.02,"x":0.592,"x2":1.408},{"g":"low","y":0.128,"x":0.641,"x2":1.359},{"g":"low","y":0.351,"x":0.755,"x2":1.245},{"g":"low","y":0.523,"x":0.828,"x2":1.172},{"g":"low","y":0.696,"x":0.91,"x2":1.09},{"g":"low","y":0.82,"x":0.959,"x2":1.041},{"g":"low","y":1.017,"x":0.977,"x2":1.023},{"g":"low","y":1.264,"x":0.979,"x2":1.021},{"g":"low","y":1.462,"x":0.974,"x2":1.026},{"g":"low","y":1.733,"x":0.962,"x2":1.038},{"g":"low","y":1.906,"x":0.974,"x2":1.026},{"g":"low","y":2.054,"x":0.992,"x2":1.008},{"g":"low","y":2.262,"x":0.998,"x2":1.002},
{"g":"high","y":-1.748,"x":1.998,"x2":2.002},{"g":"high","y":-1.452,"x":1.993,"x2":2.007},{"g":"high","y":-1.254,"x":1.967,"x2":2.033},{"g":"high","y":-1.057,"x":1.918,"x2":2.082},{"g":"high","y":-0.859,"x":1.853,"x2":2.147},{"g":"high","y":-0.662,"x":1.771,"x2":2.229},{"g":"high","y":-0.514,"x":1.719,"x2":2.281},{"g":"high","y":-0.365,"x":1.616,"x2":2.384},{"g":"high","y":-0.217,"x":1.567,"x2":2.433},{"g":"high","y":-0.133,"x":1.559,"x2":2.441},{"g":"high","y":-0.02,"x":1.572,"x2":2.428},{"g":"high","y":0.128,"x":1.621,"x2":2.379},{"g":"high","y":0.351,"x":1.69,"x2":2.31},{"g":"high","y":0.622,"x":1.747,"x2":2.253},{"g":"high","y":0.82,"x":1.837,"x2":2.163},{"g":"high","y":0.968,"x":1.894,"x2":2.106},{"g":"high","y":1.215,"x":1.951,"x2":2.049},{"g":"high","y":1.462,"x":1.967,"x2":2.033},{"g":"high","y":1.709,"x":1.967,"x2":2.033},{"g":"high","y":1.906,"x":1.958,"x2":2.042},{"g":"high","y":2.153,"x":1.971,"x2":2.029},{"g":"high","y":2.499,"x":1.98,"x2":2.02},{"g":"high","y":2.844,"x":1.985,"x2":2.015},{"g":"high","y":3.24,"x":1.995,"x2":2.005},{"g":"high","y":3.61,"x":1.998,"x2":2.002}],
"boxD":[{"c":1,"x":0.9,"x2":1.1,"lo":-1.294,"q1":-0.499,"med":-0.212,"q3":0.123,"hi":0.943},{"c":2,"x":1.9,"x2":2.1,"lo":-1.17,"q1":-0.272,"med":0.074,"q3":0.538,"hi":1.719}],
"pointsD":[{"x":1,"y":1.141},{"x":1,"y":1.388},{"x":1,"y":1.61},{"x":1,"y":1.635},{"x":1,"y":1.768},{"x":1,"y":1.832},{"x":2,"y":1.758},{"x":2,"y":1.881},{"x":2,"y":1.98},{"x":2,"y":2.03},{"x":2,"y":2.094},{"x":2,"y":2.37},{"x":2,"y":2.474},{"x":2,"y":2.523},{"x":2,"y":2.622},{"x":2,"y":2.894},{"x":2,"y":3.042}]
},
"concat":[
{"width":704,"height":807,
"title":{"text":"A","anchor":"start","frame":"group","offset":-50,"dx":-73.5,"fontSize":48,"fontWeight":"bold","font":"Liberation Sans","color":"black"},
"encoding":{"x":{"field":"gene","type":"nominal","title":null,"scale":{"paddingInner":0.2,"paddingOuter":0.2},"axis":{"labelAngle":-45,"labelFontSize":23,"tickSize":6,"labelPadding":8,"labelOffset":6}},
"y":{"field":"y","type":"quantitative","scale":{"domain":[-0.46,9.96],"nice":false,"zero":false},"axis":{"title":"Gene expression","values":[0,2.5,5,7.5],"format":".1f","titleFontSize":30,"titleX":-47,"titleY":474,"tickSize":3}}},
"layer":[
{"data":{"name":"boxes"},"mark":{"type":"rule","color":"black","strokeWidth":3},
"encoding":{"xOffset":{"field":"group","type":"nominal","scale":{"domain":["low","high"],"paddingInner":0,"paddingOuter":0}},"y":{"field":"lo"},"y2":{"field":"hi"}}},
{"data":{"name":"boxes"},"mark":{"type":"bar","stroke":"black","strokeWidth":3},
"encoding":{"xOffset":{"field":"group","type":"nominal","scale":{"domain":["low","high"],"paddingInner":0,"paddingOuter":0}},"y":{"field":"q1"},"y2":{"field":"q3"},
"fill":{"field":"group","type":"nominal","scale":{"domain":["low","high"],"range":["#2b65ae","#e8171c"]},
"legend":{"orient":"none","legendX":197.5,"legendY":-115,"direction":"horizontal","columns":2,"title":"Gene","titleOrient":"left","titleFontSize":30,"titleFontWeight":"normal","titlePadding":36,"labelFontSize":27,"labelOffset":24,"columnPadding":16,"symbolType":"M-0.95,-0.66H0.95V0.66H-0.95Z M-0.95,0H0.95 M0,-0.66V-1 M0,0.66V1","symbolSize":1936,"symbolStrokeColor":"black","symbolStrokeWidth":3}}}},
{"data":{"name":"boxes"},"mark":{"type":"tick","color":"black","size":38,"thickness":6,"opacity":1},
"encoding":{"xOffset":{"field":"group","type":"nominal","scale":{"domain":["low","high"],"paddingInner":0,"paddingOuter":0}},"y":{"field":"med"}}},
{"data":{"name":"outliers"},"mark":{"type":"circle","color":"black","size":95,"opacity":1},
"encoding":{"xOffset":{"field":"group","type":"nominal","scale":{"domain":["low","high"],"paddingInner":0,"paddingOuter":0}}}},
{"data":{"name":"sig"},"mark":{"type":"text","fontSize":17,"color":"black"},"encoding":{"text":{"field":"label"}}}
]},
{"width":719,"height":807,
"title":{"text":"B","anchor":"start","frame":"group","offset":16,"dx":-83,"fontSize":48,"fontWeight":"bold","font":"Liberation Sans","color":"black"},
"layer":[
{"data":{"name":"ribbons"},"mark":{"type":"line","order":null,"interpolate":"basis-closed","strokeWidth":0,"opacity":0.88},
"encoding":{"x":{"field":"x","type":"quantitative","scale":{"domain":[135.2,1544.5],"nice":false,"zero":false},"axis":null},"y":{"field":"y","type":"quantitative","scale":{"domain":[1742,161],"nice":false,"zero":false},"axis":null},"detail":{"field":"k","type":"nominal"},
"fill":{"field":"v","type":"quantitative","scale":{"domain":[-1,0,1],"range":["#6ab550","#ffffff","#e8262a"],"interpolate":"rgb"},
"legend":{"orient":"none","legendX":-35,"legendY":831,"direction":"horizontal","title":null,"values":[-1,1],"gradientLength":237,"gradientThickness":21,"gradientStrokeWidth":0,"labelFontSize":30,"labelColor":"#111","labelOverlap":false,"format":"d","labelOffset":2}}}},
{"data":{"name":"ticklabels"},"mark":{"type":"text","fontSize":22,"color":"#111","fontStyle":"italic","baseline":"middle"},
"encoding":{"x":{"field":"x","type":"quantitative","scale":{"domain":[135.2,1544.5],"nice":false,"zero":false},"axis":null},"y":{"field":"y","type":"quantitative","scale":{"domain":[1742,161],"nice":false,"zero":false},"axis":null},"text":{"field":"label"},"angle":{"field":"rot","type":"quantitative","scale":{"domain":[-180,180],"range":[-180,180]},"legend":null}}},
{"data":{"name":"genelabels"},"mark":{"type":"text","fontSize":24,"color":"#111","fontWeight":"bold","baseline":"middle"},
"encoding":{"x":{"field":"x","type":"quantitative","scale":{"domain":[135.2,1544.5],"nice":false,"zero":false},"axis":null},"y":{"field":"y","type":"quantitative","scale":{"domain":[1742,161],"nice":false,"zero":false},"axis":null},"text":{"field":"label"},"angle":{"field":"rot","type":"quantitative","scale":{"domain":[-180,180],"range":[-180,180]},"legend":null}}},
{"encoding":{"x":{"datum":824,"type":"quantitative","scale":{"domain":[135.2,1544.5],"nice":false,"zero":false},"axis":null},"y":{"datum":808,"type":"quantitative","scale":{"domain":[1742,161],"nice":false,"zero":false},"axis":null},
"theta":{"field":"t","type":"quantitative","stack":false,"scale":{"domain":[0,360],"range":[0,6.28319]}}},
"layer":[
{"data":{"name":"rings"},"mark":{"type":"arc"},
"encoding":{"theta2":{"field":"t2"},"radius":{"datum":545,"type":"quantitative","scale":{"domain":[0,1000],"range":[0,510.2]}},"radius2":{"datum":585},
"color":{"field":"gene","type":"nominal","legend":null,"scale":{"domain":["CD274","CTLA4","IDO1","LAG3","PDCD1","TIGIT","TNFRSF9"],"range":["#1f3d6d","#c4161c","#f5cb2e","#147a45","#27a54c","#5fc3d0","#761730"]}}}},
{"data":{"name":"rings"},"mark":{"type":"arc","color":"black"},
"encoding":{"theta2":{"field":"t2"},"radius":{"datum":585,"type":"quantitative","scale":{"domain":[0,1000],"range":[0,510.2]}},"radius2":{"datum":588}}},
{"data":{"name":"minor"},"mark":{"type":"arc","stroke":"black","strokeWidth":1.5},
"encoding":{"theta2":{"field":"t"},"radius":{"datum":585,"type":"quantitative","scale":{"domain":[0,1000],"range":[0,510.2]}},"radius2":{"datum":595}}},
{"data":{"name":"major"},"mark":{"type":"arc","stroke":"black","strokeWidth":2},
"encoding":{"theta2":{"field":"t"},"radius":{"datum":585,"type":"quantitative","scale":{"domain":[0,1000],"range":[0,510.2]}},"radius2":{"datum":605}}}
]}
]},
{"width":708,"height":964,
"title":{"text":"C","anchor":"start","frame":"group","offset":5,"dx":-73.5,"fontSize":48,"fontWeight":"bold","font":"Liberation Sans","color":"black"},
"encoding":{"x":{"field":"x","type":"quantitative","scale":{"domain":[0.394,2.485],"nice":false,"zero":false},
"axis":{"title":"Response","values":[1,2],"labelExpr":"datum.value==1?'non_response':'response'","labelFontSize":28,"labelPadding":19,"labelOffset":11,"tickSize":12,"titleFontSize":37,"titleX":386,"titleY":119,"titleBaseline":"alphabetic"}},
"y":{"field":"y","type":"quantitative","scale":{"domain":[-0.2087,0.2048],"nice":false,"zero":false},"axis":{"title":"risk_score","values":[-0.2,-0.1,0,0.1,0.2],"format":".1f","titleFontSize":31,"titleX":-47,"titleY":456,"tickSize":3}}},
"resolve":{"scale":{"fill":"independent"}},
"layer":[
{"data":{"name":"violinC"},"mark":{"type":"area","orient":"horizontal","interpolate":"monotone","stroke":"black","strokeWidth":5.5,"fillOpacity":0.35},
"encoding":{"x2":{"field":"x2"},"fill":{"field":"g","type":"nominal","legend":null,"scale":{"domain":["non_response","response"],"range":["#2b65ae","#e08101"]}}}},
{"data":{"name":"boxC"},"mark":{"type":"rule","color":"black","strokeWidth":6},
"encoding":{"x":{"field":"c"},"y":{"field":"lo"},"y2":{"field":"hi"}}},
{"data":{"name":"boxC"},"mark":{"type":"rect","stroke":"black","strokeWidth":5,"fillOpacity":0.7},
"encoding":{"x2":{"field":"x2"},"y":{"field":"q1"},"y2":{"field":"q3"},"fill":{"field":"g","type":"nominal","legend":null,"scale":{"domain":["non_response","response"],"range":["#3585bd","#df9027"]}}}},
{"data":{"name":"boxC"},"mark":{"type":"rule","color":"black","strokeWidth":9},
"encoding":{"x2":{"field":"x2"},"y":{"field":"med"}}},
{"data":{"name":"pointsC"},"mark":{"type":"circle","size":120,"stroke":"black","strokeWidth":1.8,"opacity":1},
"encoding":{"fill":{"field":"g","type":"nominal","legend":null,"scale":{"domain":["non_response","response"],"range":["#2a86c5","#f0931e"]}}}},
{"data":{"values":[{"x":1,"x2":2.011,"y":0.1862,"y2":0.1862},{"x":1,"x2":1,"y":0.1862,"y2":0.1749},{"x":2.011,"x2":2.011,"y":0.1862,"y2":0.1749}]},"mark":{"type":"rule","color":"black","strokeWidth":1.5},
"encoding":{"x2":{"field":"x2"},"y2":{"field":"y2"}}},
{"data":{"values":[{"x":1.506,"y":0.1968,"label":"***"}]},"mark":{"type":"text","fontSize":17,"color":"black"},"encoding":{"text":{"field":"label"}}}
]},
{"width":719,"height":958,
"title":{"text":"D","anchor":"start","frame":"group","offset":-12,"dx":-83,"fontSize":48,"fontWeight":"bold","font":"Liberation Sans","color":"black"},
"encoding":{"x":{"field":"x","type":"quantitative","scale":{"domain":[0.402,2.598],"nice":false,"zero":false},
"axis":{"title":"risk_group","values":[1,2],"labelExpr":"datum.value==1?'low':'high'","labelFontSize":28,"labelPadding":28,"labelOffset":15,"tickSize":8,"titleFontSize":37,"titleX":389,"titleY":132,"titleBaseline":"alphabetic"}},
"y":{"field":"y","type":"quantitative","scale":{"domain":[-2.035,4.299],"nice":false,"zero":false},"axis":{"title":"TIDE","values":[-1,0,1,2,3],"domain":false,"titleFontSize":28,"titleX":-36,"titleY":465,"tickSize":3}}},
"layer":[
{"data":{"values":[{"x":0.402,"y":-2.035,"y2":3.869}]},"mark":{"type":"rule","color":"black","strokeWidth":3},"encoding":{"y2":{"field":"y2"}}},
{"data":{"name":"violinD"},"mark":{"type":"area","orient":"horizontal","interpolate":"monotone","stroke":"black","strokeWidth":3},
"encoding":{"x2":{"field":"x2"},"fill":{"field":"g","type":"nominal","scale":{"domain":["low","high"],"range":["#2b65ae","#e8171c"]},
"legend":{"orient":"none","legendX":199,"legendY":-15,"direction":"horizontal","columns":2,"title":null,"symbolType":"square","symbolSize":2500,"symbolStrokeColor":"black","symbolStrokeWidth":3,"labelFontSize":28,"labelOffset":20,"columnPadding":91}}}},
{"data":{"name":"boxD"},"mark":{"type":"rule","color":"black","strokeWidth":3.5},
"encoding":{"x":{"field":"c"},"y":{"field":"lo"},"y2":{"field":"hi"}}},
{"data":{"name":"pointsD"},"mark":{"type":"circle","color":"black","size":130,"opacity":1}},
{"data":{"name":"boxD"},"mark":{"type":"rect","fill":"white","stroke":"black","strokeWidth":3},
"encoding":{"x2":{"field":"x2"},"y":{"field":"q1"},"y2":{"field":"q3"}}},
{"data":{"name":"boxD"},"mark":{"type":"rule","color":"black","strokeWidth":5},
"encoding":{"x2":{"field":"x2"},"y":{"field":"med"}}},
{"data":{"values":[{"x":1,"x2":1.98,"y":3.264,"y2":3.264},{"x":1,"x2":1,"y":3.264,"y2":3.131}]},"mark":{"type":"rule","color":"black","strokeWidth":1.5},
"encoding":{"x2":{"field":"x2"},"y2":{"field":"y2"}}},
{"data":{"values":[{"x":1.5,"y":3.447,"label":"***"}]},"mark":{"type":"text","fontSize":17,"color":"black"},"encoding":{"text":{"field":"label"}}}
]}
]}
